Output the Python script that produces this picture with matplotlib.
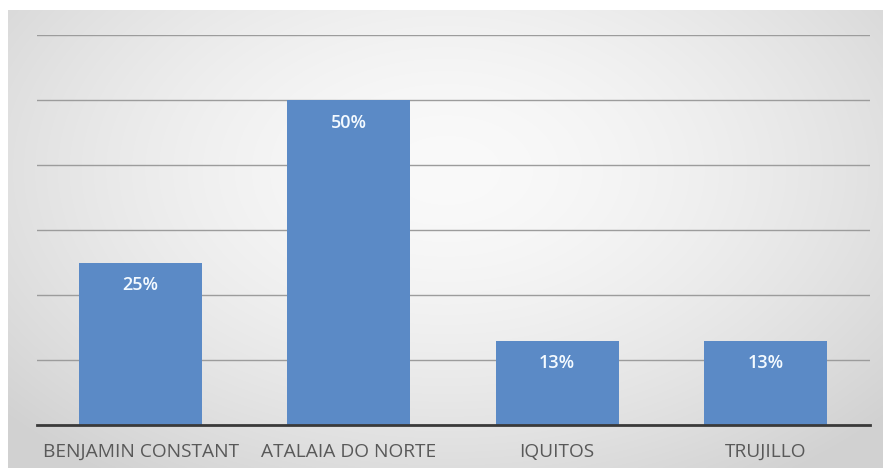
import numpy as np
import matplotlib
matplotlib.use("Agg")
import matplotlib.pyplot as plt

cidades = ["BENJAMIN CONSTANT", "ATALAIA DO NORTE", "IQUITOS", "TRUJILLO"]
percentuais = [25, 50, 13, 13]

W, H = 883, 469
fig = plt.figure(figsize=(W / 100, H / 100), dpi=100)
fig.patch.set_facecolor("white")

# fundo do gráfico: degradê radial claro no centro, cinza nas bordas
bg = fig.add_axes([8 / W, 1 - 468 / H, 875 / W, 458 / H])
ny, nx = 300, 600
yy, xx = np.mgrid[0:ny, 0:nx]
r = np.sqrt(((xx / nx - 0.5) / 0.62) ** 2 + ((yy / ny - 0.35) / 0.75) ** 2)
lum = np.clip(0.98 - 0.14 * r ** 1.6, 0.82, 1.0)
bg.imshow(np.dstack([lum, lum, lum]), aspect="auto", interpolation="bilinear")
bg.set_axis_off()

ax = fig.add_axes([36.5 / W, 1 - 425 / H, 833 / W, 390 / H])
ax.patch.set_alpha(0)
x = np.arange(len(cidades))
barras = ax.bar(x, percentuais, width=0.59, color="#5B8AC6", zorder=2)

ax.set_xlim(-0.5, len(cidades) - 0.5)
ax.set_ylim(0, 60)
ax.set_yticks(np.arange(0, 61, 10))
ax.yaxis.grid(True, color="#9C9C9C", lw=1.0, zorder=1)
ax.tick_params(axis="y", length=0, labelleft=False)
ax.tick_params(axis="x", length=0, pad=13)
ax.set_xticks(x)
ax.set_xticklabels(cidades, fontsize=13.8, color="#595959", family="Open Sans")
for s in ["left", "right", "top"]:
    ax.spines[s].set_visible(False)
ax.spines["bottom"].set_color("#3A3A3A")
ax.spines["bottom"].set_linewidth(2)
ax.spines["bottom"].set_zorder(3)

for b, v in zip(barras, percentuais):
    ax.annotate(f"{v}%", (b.get_x() + b.get_width() / 2, v),
                xytext=(0, -16.5), textcoords="offset points",
                ha="center", va="center", fontsize=13, fontweight="semibold",
                color="#F4FAFF", family="Open Sans", zorder=4)

fig.savefig("out.png", dpi=100)
